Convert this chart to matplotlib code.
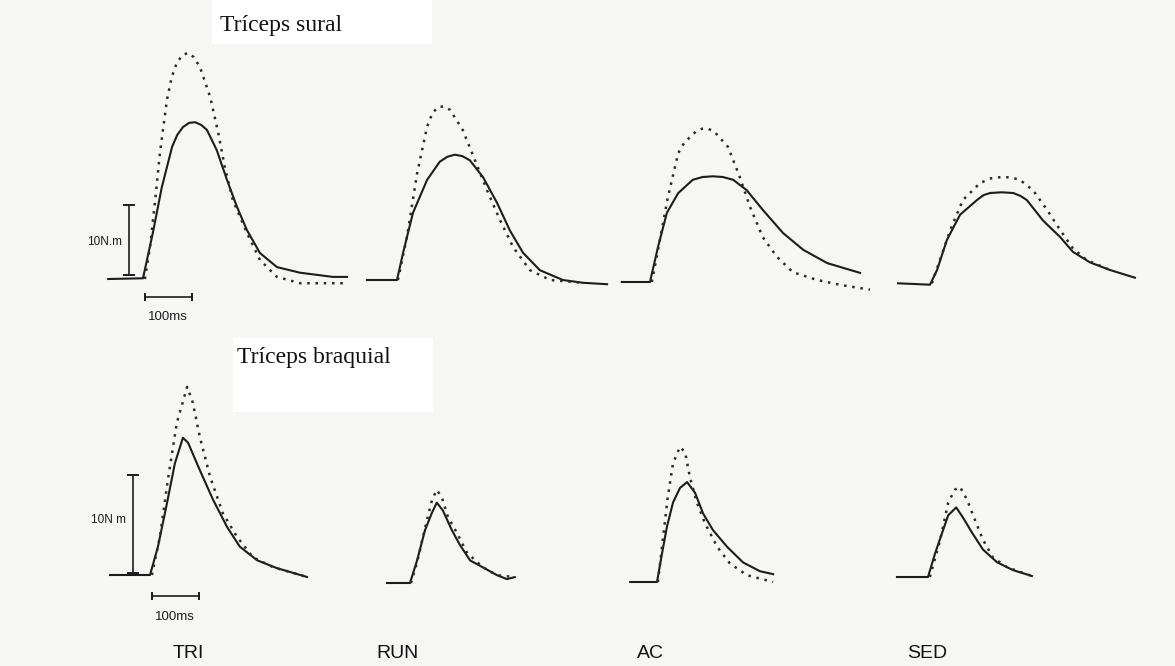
import matplotlib
matplotlib.use("Agg")
import matplotlib.pyplot as plt
from matplotlib.patches import Rectangle

# Figure size in pixels (dpi 100)
W, H = 1175, 666

groups = ['TRI', 'RUN', 'AC', 'SED']
row_titles = ['Tríceps sural', 'Tríceps braquial']

# ---- Tríceps sural (time in ms from onset, torque in N.m) ----
sural_tri_solid_t = [-74, 0, 21, 40, 62, 73, 85, 98, 111, 124, 136, 157, 179, 200, 221, 249, 285, 334, 404, 434]
sural_tri_solid_nm = [0, 0.1, 6.6, 13.1, 18.9, 20.6, 21.7, 22.3, 22.4, 22.0, 21.3, 18.4, 14.1, 10.3, 7.0, 3.7, 1.7, 0.9, 0.3, 0.3]
sural_tri_dot_t = [4, 15, 26, 36, 51, 61, 72, 84, 96, 108, 121, 143, 160, 174, 191, 221, 249, 285, 334, 434]
sural_tri_dot_nm = [0, 4.6, 11.3, 18.0, 25.6, 28.8, 30.9, 32.0, 32.3, 31.7, 30.3, 26.0, 20.9, 16.0, 11.3, 6.6, 2.7, 0.3, -0.6, -0.6]

sural_run_solid_t = [-64, 0, 13, 34, 64, 91, 107, 123, 139, 155, 183, 213, 240, 268, 304, 353, 396, 447]
sural_run_solid_nm = [0, 0, 3.9, 9.6, 14.3, 16.9, 17.6, 17.9, 17.7, 17.1, 14.7, 11.0, 7.1, 3.9, 1.4, 0, -0.4, -0.6]
sural_run_dot_t = [2, 21, 43, 64, 75, 87, 100, 113, 140, 166, 191, 219, 247, 283, 326, 396]
sural_run_dot_nm = [0, 6.1, 15.3, 21.9, 23.8, 24.7, 24.8, 24.3, 21.4, 17.1, 12.9, 8.6, 4.7, 1.4, 0, -0.4]

sural_ac_solid_t = [-60, 0, 17, 36, 60, 91, 112, 134, 155, 177, 206, 240, 283, 326, 377, 447]
sural_ac_solid_nm = [0, 0, 5.0, 9.9, 12.7, 14.6, 15.0, 15.1, 15.0, 14.6, 13.1, 10.3, 7.0, 4.6, 2.7, 1.3]
sural_ac_dot_t = [4, 21, 38, 60, 72, 85, 98, 111, 124, 138, 166, 191, 213, 240, 270, 304, 355, 404, 468]
sural_ac_dot_nm = [0, 6.0, 12.1, 18.4, 19.8, 20.7, 21.5, 21.9, 21.9, 21.4, 19.3, 15.0, 10.7, 6.4, 3.6, 1.4, 0.3, -0.4, -1.1]

sural_sed_solid_t = [-68, 0, 15, 36, 64, 100, 114, 128, 152, 177, 192, 206, 240, 277, 304, 340, 383, 436]
sural_sed_solid_nm = [0.1, -0.1, 2.0, 6.3, 9.9, 12.0, 12.7, 13.0, 13.1, 13.0, 12.6, 12.0, 9.1, 6.7, 4.6, 3.1, 2.0, 0.9]
sural_sed_dot_t = [4, 21, 43, 70, 106, 130, 155, 173, 191, 219, 249, 277, 304, 334, 383]
sural_sed_dot_nm = [0.1, 3.4, 7.7, 12.0, 14.4, 15.1, 15.3, 15.2, 14.9, 13.4, 10.6, 7.7, 5.1, 3.4, 2.0]

# ---- Tríceps braquial ----
braq_tri_solid_t = [-85, 0, 17, 36, 53, 70, 81, 106, 134, 164, 191, 228, 270, 334]
braq_tri_solid_nm = [0, 0, 2.9, 7.3, 11.4, 14.0, 13.5, 10.7, 7.7, 4.9, 2.9, 1.5, 0.7, -0.2]
braq_tri_dot_t = [4, 21, 38, 57, 79, 91, 106, 128, 155, 185, 219, 262, 334]
braq_tri_dot_nm = [0, 3.9, 9.7, 15.5, 19.2, 17.6, 14.1, 10.0, 6.3, 3.9, 1.8, 0.8, -0.2]

braq_run_solid_t = [-49, 0, 15, 32, 47, 57, 70, 89, 106, 128, 155, 185, 206, 223]
braq_run_solid_nm = [0, 0, 2.3, 5.4, 7.2, 8.2, 7.4, 5.4, 3.9, 2.3, 1.6, 0.8, 0.4, 0.6]
braq_run_dot_t = [2, 15, 32, 47, 57, 68, 81, 100, 121, 155, 185, 223]
braq_run_dot_nm = [0, 2.1, 5.6, 8.5, 9.5, 8.7, 6.7, 5.1, 3.1, 1.6, 0.8, 0.6]

braq_ac_solid_t = [-57, 0, 11, 21, 34, 49, 64, 81, 98, 119, 149, 183, 219, 247]
braq_ac_solid_nm = [0, 0, 3.0, 5.6, 8.1, 9.6, 10.2, 9.1, 7.0, 5.3, 3.6, 2.0, 1.1, 0.8]
braq_ac_dot_t = [2, 13, 23, 34, 49, 60, 70, 85, 102, 128, 155, 191, 247]
braq_ac_dot_nm = [0, 4.6, 8.7, 12.1, 13.8, 13.2, 10.7, 8.1, 6.0, 3.6, 1.9, 0.7, 0]

braq_sed_solid_t = [-66, 0, 15, 30, 43, 60, 74, 94, 117, 147, 181, 221]
braq_sed_solid_nm = [0, 0, 2.4, 4.5, 6.3, 7.1, 6.1, 4.5, 2.8, 1.5, 0.7, 0.1]
braq_sed_dot_t = [4, 26, 43, 57, 68, 83, 100, 117, 138, 168, 221]
braq_sed_dot_nm = [0, 3.8, 7.6, 8.9, 9.2, 7.9, 5.8, 3.8, 2.0, 1.0, 0.1]

rows = [
    [(sural_tri_solid_t, sural_tri_solid_nm, sural_tri_dot_t, sural_tri_dot_nm),
     (sural_run_solid_t, sural_run_solid_nm, sural_run_dot_t, sural_run_dot_nm),
     (sural_ac_solid_t, sural_ac_solid_nm, sural_ac_dot_t, sural_ac_dot_nm),
     (sural_sed_solid_t, sural_sed_solid_nm, sural_sed_dot_t, sural_sed_dot_nm)],
    [(braq_tri_solid_t, braq_tri_solid_nm, braq_tri_dot_t, braq_tri_dot_nm),
     (braq_run_solid_t, braq_run_solid_nm, braq_run_dot_t, braq_run_dot_nm),
     (braq_ac_solid_t, braq_ac_solid_nm, braq_ac_dot_t, braq_ac_dot_nm),
     (braq_sed_solid_t, braq_sed_solid_nm, braq_sed_dot_t, braq_sed_dot_nm)],
]

# ---- layout (pixels) ----
onset_x = [[143, 397, 650, 930], [150, 410, 657, 928]]
baseline_y = [[279, 280, 282, 284], [575, 583, 582, 577]]
px_per_ms = [0.47, 0.47]
px_per_nm = [7.0, 9.8]
title_pos = [(220, 25), (237, 358)]
white_boxes = [(212, 0, 220, 44), (233, 338, 200, 74)]
label_x = [188, 398, 650, 927]
label_y = 654

bg_color = '#f6f6f5'
ink = '#1c1c1c'

fig = plt.figure(figsize=(W / 100, H / 100), dpi=100)
fig.patch.set_facecolor(bg_color)

bg = fig.add_axes([0, 0, 1, 1])
bg.set_xlim(0, W)
bg.set_ylim(H, 0)
bg.axis('off')
bg.set_facecolor(bg_color)

for (bx, by, bw, bh) in white_boxes:
    bg.add_patch(Rectangle((bx, by), bw, bh, facecolor='white', edgecolor='none'))

for title, (tx, ty) in zip(row_titles, title_pos):
    bg.text(tx, ty, title, family='Liberation Serif', fontsize=17,
            ha='left', va='center', color='#111111')

for g, lx in zip(groups, label_x):
    bg.text(lx, label_y, g, family='Liberation Sans', fontsize=14,
            ha='center', va='center', color='#111111')


def panel_axes(x0, y0, ppms, ppn):
    ax = fig.add_axes([0, 0, 1, 1])
    ax.set_xlim(-x0 / ppms, (W - x0) / ppms)
    ax.set_ylim(-(H - y0) / ppn, y0 / ppn)
    ax.axis('off')
    ax.patch.set_alpha(0)
    return ax


first_axes = []
for r, row in enumerate(rows):
    for c, (st, sy, dt, dy) in enumerate(row):
        ax = panel_axes(onset_x[r][c], baseline_y[r][c], px_per_ms[r], px_per_nm[r])
        ax.plot(st, sy, color=ink, linewidth=1.5, solid_joinstyle='round')
        ax.plot(dt, dy, color='#2a2a2a', linewidth=1.8, linestyle=(0, (1, 2.3)),
                dash_capstyle='butt')
        if c == 0:
            first_axes.append(ax)

# Scale bars on the TRI panels: 10 N.m vertical, 100 ms horizontal
bar_specs = [
    # (bar_t, v_lo, v_hi, h_y, label_v, label_v_pos, label_h_pos)
    (-30, 0.5, 10.5, -2.6, '10N.m', (-44, 5.3), (53, -5.5)),
    (-36, 0.2, 10.2, -2.1, '10N m', (-52, 5.6), (53, -4.3)),
]
for ax, (bt, vlo, vhi, hy, vlab, vpos, hpos) in zip(first_axes, bar_specs):
    ax.plot([bt, bt], [vlo, vhi], color=ink, linewidth=1.2)
    ax.plot([bt, bt], [vlo, vhi], linestyle='none', marker='_', markersize=9,
            markeredgewidth=1.4, color=ink)
    ax.plot([4, 104], [hy, hy], color=ink, linewidth=1.2)
    ax.plot([4, 104], [hy, hy], linestyle='none', marker='|', markersize=6,
            markeredgewidth=1.4, color=ink)
    ax.text(vpos[0], vpos[1], vlab, family='Liberation Sans', fontsize=8.5,
            ha='right', va='center', color=ink)
    ax.text(hpos[0], hpos[1], '100ms', family='Liberation Sans', fontsize=9.5,
            ha='center', va='center', color=ink)

fig.savefig('out.png', dpi=100, facecolor=fig.get_facecolor())
